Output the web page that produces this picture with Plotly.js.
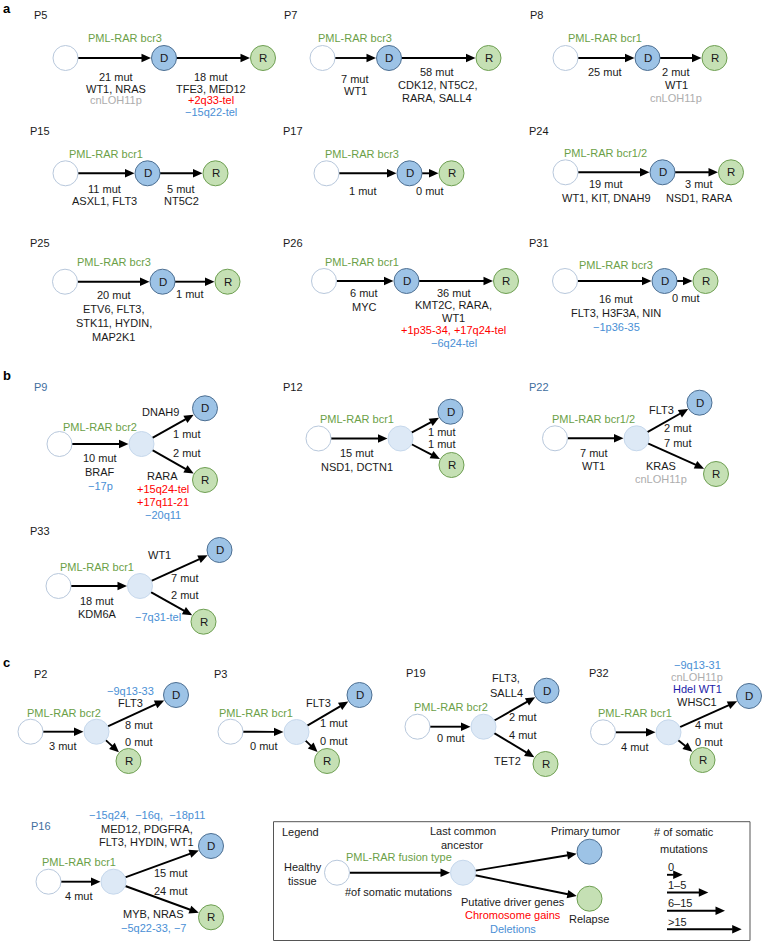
<!DOCTYPE html>
<html><head><meta charset="utf-8">
<script src="https://cdn.plot.ly/plotly-3.0.1.min.js"></script>
<style>html,body{margin:0;padding:0;background:#fff}#chart{width:762px;height:942px}</style>
</head><body><div id="chart"></div>
<script>
// ---------------- DATA ----------------
// Panel a: linear evolution (healthy -> D -> R)
const linPatients = ['P5','P7','P8','P15','P17','P24','P25','P26','P31'];
const linFusion   = ['bcr3','bcr3','bcr1','bcr1','bcr3','bcr1/2','bcr3','bcr1','bcr3'];
const linMutD     = [21, 7, 25, 11, 1, 19, 20, 6, 16];
const linMutR     = [18, 58, 2, 5, 0, 3, 1, 36, 0];
const linGenesD   = [['WT1, NRAS'],['WT1'],[],['ASXL1, FLT3'],[],['WT1, KIT, DNAH9'],['ETV6, FLT3,','STK11, HYDIN,','MAP2K1'],['MYC'],['FLT3, H3F3A, NIN']];
const linLohD     = [['cnLOH11p'],[],[],[],[],[],[],[],[]];
const linDelsD    = [[],[],[],[],[],[],[],[],['\u22121p36-35']];
const linGenesR   = [['TFE3, MED12'],['CDK12, NT5C2,','RARA, SALL4'],['WT1'],['NT5C2'],[],['NSD1, RARA'],[],['KMT2C, RARA,','WT1'],[]];
const linLohR     = [[],[],['cnLOH11p'],[],[],[],[],[],[]];
const linGainsR   = [['+2q33-tel'],[],[],[],[],[],[],['+1p35-34, +17q24-tel'],[]];
const linDelsR    = [['\u221215q22-tel'],[],[],[],[],[],[],['\u22126q24-tel'],[]];

// Panels b & c: branching evolution (healthy -> last common ancestor -> D / R)
const brPatients = ['P9','P12','P22','P33','P2','P3','P19','P32','P16'];
const brFusion   = ['bcr2','bcr1','bcr1/2','bcr1','bcr2','bcr1','bcr2','bcr1','bcr1'];
const brMutL     = [10, 15, 7, 18, 3, 0, 0, 4, 4];
const brMutD     = [1, 1, 2, 7, 8, 1, 2, 4, 15];
const brMutR     = [2, 1, 7, 2, 0, 0, 4, 0, 24];
const brGenesL   = [['BRAF'],['NSD1, DCTN1'],['WT1'],['KDM6A'],[],[],[],[],[]];
const brDelsL    = [['\u221217p'],[],[],[],[],[],[],[],[]];
const brGenesD   = [['DNAH9'],[],['FLT3'],['WT1'],['FLT3'],['FLT3'],['FLT3,','SALL4'],['WHSC1'],['MED12, PDGFRA,','FLT3, HYDIN, WT1']];
const brDelsD    = [[],[],[],[],['\u22129q13-33'],[],[],['\u22129q13-31'],['\u221215q24,\u00a0 \u221216q,\u00a0 \u221218p11']];
const brLohD     = [[],[],[],[],[],[],[],['cnLOH11p'],[]];
const brHdelD    = [[],[],[],[],[],[],[],['Hdel WT1'],[]];
const brGenesR   = [['RARA'],[],['KRAS'],[],[],[],['TET2'],[],['MYB, NRAS']];
const brLohR     = [[],[],['cnLOH11p'],[],[],[],[],[],[]];
const brGainsR   = [['+15q24-tel','+17q11-21'],[],[],[],[],[],[],[],[]];
const brDelsR    = [['\u221220q11'],[],[],['\u22127q31-tel'],[],[],[],[],['\u22125q22-33, \u22127']];
const highlighted = ['P9','P22','P16'];

const panelLetters = ['a','b','c'];
const binLabels = ['0','1\u20135','6\u201315','>15'];

// ---------------- LAYOUT GEOMETRY (pixel space) ----------------
const geoA = [
 {lab:[40,15],   fus:[125,38],    H:[65.5,58],   D:[164,58],    R:[263,58],    bD:[116,77,11.5],  bR:[211,77,11.5]},
 {lab:[290,15],  fus:[355,38],    H:[322.5,58],  D:[389,58],    R:[488.5,58],  bD:[355,79,12],    bR:[437,71.5,13.3]},
 {lab:[536,15],  fus:[604.5,38],  H:[565.5,58],  D:[647.5,58],  R:[714.5,58],  bD:[605,72,13],    bR:[676,72,13]},
 {lab:[40,130.7],fus:[106,154.3], H:[65.5,173.3],D:[147.5,173.3],R:[215.5,173.3],bD:[104,189,11.7], bR:[181,189,11.7]},
 {lab:[293,130.7],fus:[362,154.3],H:[326.5,173.3],D:[409.5,173.3],R:[451.5,173.3],bD:[363,191,12], bR:[430,191,12]},
 {lab:[539,131], fus:[605.5,153.3],H:[565.5,172.3],D:[662.5,172.3],R:[731,172.3],bD:[606,184,14.3], bR:[699,184,14.3]},
 {lab:[40,243.3],fus:[113.5,261.7],H:[65,281.7], D:[162.5,281.7],R:[227.5,281.7],bD:[113.5,295,14.1],bR:[190,294.3,14]},
 {lab:[293,243.3],fus:[362,261.7],H:[324,281],   D:[406.5,281], R:[506,281],   bD:[364,293.3,13.4],bR:[453.5,292.7,12.5]},
 {lab:[539,242.7],fus:[616,265],  H:[565,281],   D:[664.5,281], R:[705.5,281], bD:[616,299.3,13.8],bR:[686,298.3,13]}
];
const geoB = [
 {lab:[40,386.7], fus:[99.5,426.7], H:[59.5,444], L:[141.5,444], D:[205,408.3], R:[205,480], bL:[100,458.3,13.7], mD:[187,434], bD:[160,411.7,13], mR:[187,453.3], bR:[162.5,476,13]},
 {lab:[293,386.7],fus:[356.5,419],  H:[318.5,438.5],L:[400.5,438.5],D:[450.5,411.7],R:[451.5,465],bL:[357,453.3,13.4],mD:[442,431.7], bD:[442,411,13], mR:[442,444], bR:[442,470,13]},
 {lab:[539,386.7],fus:[593,419],    H:[555,438.3], L:[636.5,438.3],D:[699.5,402.7],R:[716,474], bL:[593.5,452.7,13.3],mD:[677.5,428.3],bD:[661.5,410,13], mR:[677.5,443.3],bR:[661,465.7,13.3]},
 {lab:[40,530.7], fus:[97,567.3],   H:[58.5,586],  L:[140,586],   D:[219.5,550], R:[203.5,621.7],bL:[97,600.7,13.3],mD:[185,578.3], bD:[159,555,13],   mR:[185,595],  bR:[158,617.3,13]},
 {lab:[40,674],   fus:[63.5,712.7], H:[30.5,731.7],L:[96.5,731.7],D:[176,695],   R:[128.5,761],bL:[63,746,13],    mD:[139,725],   bD:[130,690.7,12.6],mR:[139,741.7],bR:[130,770,13]},
 {lab:[220,674],  fus:[255.5,712.7],H:[230.5,731.7],L:[296.5,732],D:[359.5,695], R:[327,761],  bL:[263.5,746,13], mD:[333.5,723.3],bD:[318.5,703.3,13],mR:[333.5,740.7],bR:[330,770,13]},
 {lab:[416,673.3],fus:[451,706.7],  H:[417.5,726.7],L:[483.5,726.7],D:[546.5,690.7],R:[545.5,764],bL:[450.5,738.3,13],mD:[522.5,716.7],bD:[506,678.3,15],mR:[522.5,735],bR:[507.5,760.7,13]},
 {lab:[599,673.3],fus:[635,712.7],  H:[603,732.3], L:[668.5,732.3],D:[749,696],  R:[702.5,760],bL:[635,746.7,13], mD:[709,725],   bD:[697,665,12.2], mR:[709,741.7],bR:[700,770,13]},
 {lab:[40.5,825.7],fus:[78.5,862.3],H:[48.5,881.7],L:[113.5,881.7],D:[211,846],  R:[211,917.3],bL:[78.5,896,13], mD:[170.5,872.7],bD:[146.5,815,13.6],mR:[170.5,891],bR:[153,914,13.7]}
];
const letterPos = [[1,8],[1,375],[1,662]];

// ---------------- STYLE ----------------
const FONT = 'Liberation Sans, Arial, Helvetica, sans-serif';
const TXT='#1a1a1a', GREEN='#6b9f47', BLUE='#4a8fd5', RED='#ff0000', GREY='#adadad', HDEL='#1c1ca8', PBLUE='#3f6e9e';
const NODE = {
  H:{fill:'#ffffff', line:'#b8c8dc'},
  L:{fill:'#dde9f6', line:'#c6d8ec'},
  D:{fill:'#9dc3e6', line:'#4d6f92'},
  R:{fill:'#c5e0b4', line:'#6e9f52'}
};
const RAD = 12.5, FS = 11;

const ann = [], shapes = [];
function txt(x, y, t, color, opt) {
  opt = opt || {};
  ann.push({x:x, y:y, xref:'x', yref:'y', text:t, showarrow:false,
    xanchor:opt.anchor || 'center', yanchor:'middle',
    font:{family:FONT, size:opt.size || FS, color:color || TXT}});
}
function block(pos, lines) {
  if (!pos || !lines.length) return;
  lines.forEach((l, i) => txt(pos[0], pos[1] + i * (pos[2] || 13), l[0], l[1]));
}
function node(p, kind, label) {
  shapes.push({type:'circle', xref:'x', yref:'y', x0:p[0]-RAD, x1:p[0]+RAD, y0:p[1]-RAD, y1:p[1]+RAD,
    fillcolor:NODE[kind].fill, line:{color:NODE[kind].line, width:1}, layer:'above'});
  if (label) txt(p[0], p[1], label, TXT, {size:11.5});
}
function arrowRaw(x0, y0, x1, y1) {
  const dx = x1 - x0, dy = y1 - y0, len = Math.hypot(dx, dy);
  const ux = dx / len, uy = dy / len, px = -uy, py = ux;
  const HL = 9.5, HW = 4.2;
  const bx = x1 - ux * HL, by = y1 - uy * HL;
  shapes.push({type:'line', xref:'x', yref:'y', x0:x0, y0:y0, x1:bx + ux*0.5, y1:by + uy*0.5,
    line:{color:'#000', width:1.9}});
  shapes.push({type:'path', xref:'x', yref:'y',
    path:`M${x1},${y1} L${bx+px*HW},${by+py*HW} L${bx-px*HW},${by-py*HW} Z`,
    fillcolor:'#000', line:{width:0}});
}
function arrow(a, b) {
  const dx = b[0]-a[0], dy = b[1]-a[1], len = Math.hypot(dx, dy);
  const ux = dx/len, uy = dy/len;
  arrowRaw(a[0]+ux*RAD, a[1]+uy*RAD, b[0]-ux*(RAD+0.5), b[1]-uy*(RAD+0.5));
}
const col = (arr, c) => arr.map(t => [t, c]);

// panel letters
panelLetters.forEach((l, i) => txt(letterPos[i][0], letterPos[i][1], '<b>' + l + '</b>', '#000', {anchor:'left', size:13}));

// panel a
linPatients.forEach((p, i) => {
  const g = geoA[i];
  txt(g.lab[0], g.lab[1], p, highlighted.includes(p) ? PBLUE : TXT);
  txt(g.fus[0], g.fus[1], 'PML-RAR ' + linFusion[i], GREEN);
  arrow(g.H, g.D); arrow(g.D, g.R);
  node(g.H, 'H'); node(g.D, 'D', 'D'); node(g.R, 'R', 'R');
  block(g.bD, [[linMutD[i] + ' mut', TXT]].concat(col(linGenesD[i], TXT), col(linLohD[i], GREY), col(linDelsD[i], BLUE)));
  block(g.bR, [[linMutR[i] + ' mut', TXT]].concat(col(linGenesR[i], TXT), col(linLohR[i], GREY), col(linGainsR[i], RED), col(linDelsR[i], BLUE)));
});

// panels b, c
brPatients.forEach((p, i) => {
  const g = geoB[i];
  txt(g.lab[0], g.lab[1], p, highlighted.includes(p) ? PBLUE : TXT);
  txt(g.fus[0], g.fus[1], 'PML-RAR ' + brFusion[i], GREEN);
  arrow(g.H, g.L); arrow(g.L, g.D); arrow(g.L, g.R);
  node(g.H, 'H'); node(g.L, 'L'); node(g.D, 'D', 'D'); node(g.R, 'R', 'R');
  block(g.bL, [[brMutL[i] + ' mut', TXT]].concat(col(brGenesL[i], TXT), col(brDelsL[i], BLUE)));
  txt(g.mD[0], g.mD[1], brMutD[i] + ' mut', TXT);
  txt(g.mR[0], g.mR[1], brMutR[i] + ' mut', TXT);
  block(g.bD, [].concat(col(brDelsD[i], BLUE), col(brLohD[i], GREY), col(brHdelD[i], HDEL), col(brGenesD[i], TXT)));
  block(g.bR, [].concat(col(brGenesR[i], TXT), col(brLohR[i], GREY), col(brGainsR[i], RED), col(brDelsR[i], BLUE)));
});

// legend
shapes.push({type:'rect', xref:'x', yref:'y', x0:273.5, x1:750, y0:821.7, y1:940.5, line:{color:'#555', width:1}});
txt(300.5, 832.3, 'Legend');
txt(302.5, 866.7, 'Healthy'); txt(302, 880.7, 'tissue');
const lgH = [337, 872.7], lgL = [463, 872.7], lgD = [589.5, 851.7], lgR = [589.5, 898.7];
arrow(lgH, lgL); arrow(lgL, lgD); arrow(lgL, lgR);
node(lgH, 'H'); node(lgL, 'L'); node(lgD, 'D'); node(lgR, 'R');
txt(398.5, 856.7, 'PML-RAR fusion type', GREEN);
txt(398.5, 892.3, '#of somatic mutations');
txt(462.5, 831, 'Last common'); txt(462, 845, 'ancestor');
txt(585.5, 830.7, 'Primary tumor');
txt(589, 919, 'Relapse');
txt(513, 901.7, 'Putative driver genes'); txt(513, 915, 'Chromosome gains', RED); txt(513, 929, 'Deletions', BLUE);
txt(683.5, 832.3, '# of somatic'); txt(683.5, 849.3, 'mutations');
const binArrowEnd = [682.7, 708.3, 725, 741.7];
const binY = [867.3, 885, 903.3, 921.7];
binLabels.forEach((b, i) => {
  txt(666, binY[i], b, TXT, {anchor:'left'});
  arrowRaw(667, binY[i] + 7.5, binArrowEnd[i], binY[i] + 7.5);
});

Plotly.newPlot('chart', [{x:[], y:[], type:'scatter', mode:'markers', hoverinfo:'skip'}], {
  width:762, height:942, margin:{l:0, r:0, t:0, b:0},
  paper_bgcolor:'#fff', plot_bgcolor:'#fff', showlegend:false,
  xaxis:{range:[0,762], visible:false, fixedrange:true},
  yaxis:{range:[942,0], visible:false, fixedrange:true},
  shapes:shapes, annotations:ann
}, {staticPlot:true, displayModeBar:false});
</script>
</body></html>
